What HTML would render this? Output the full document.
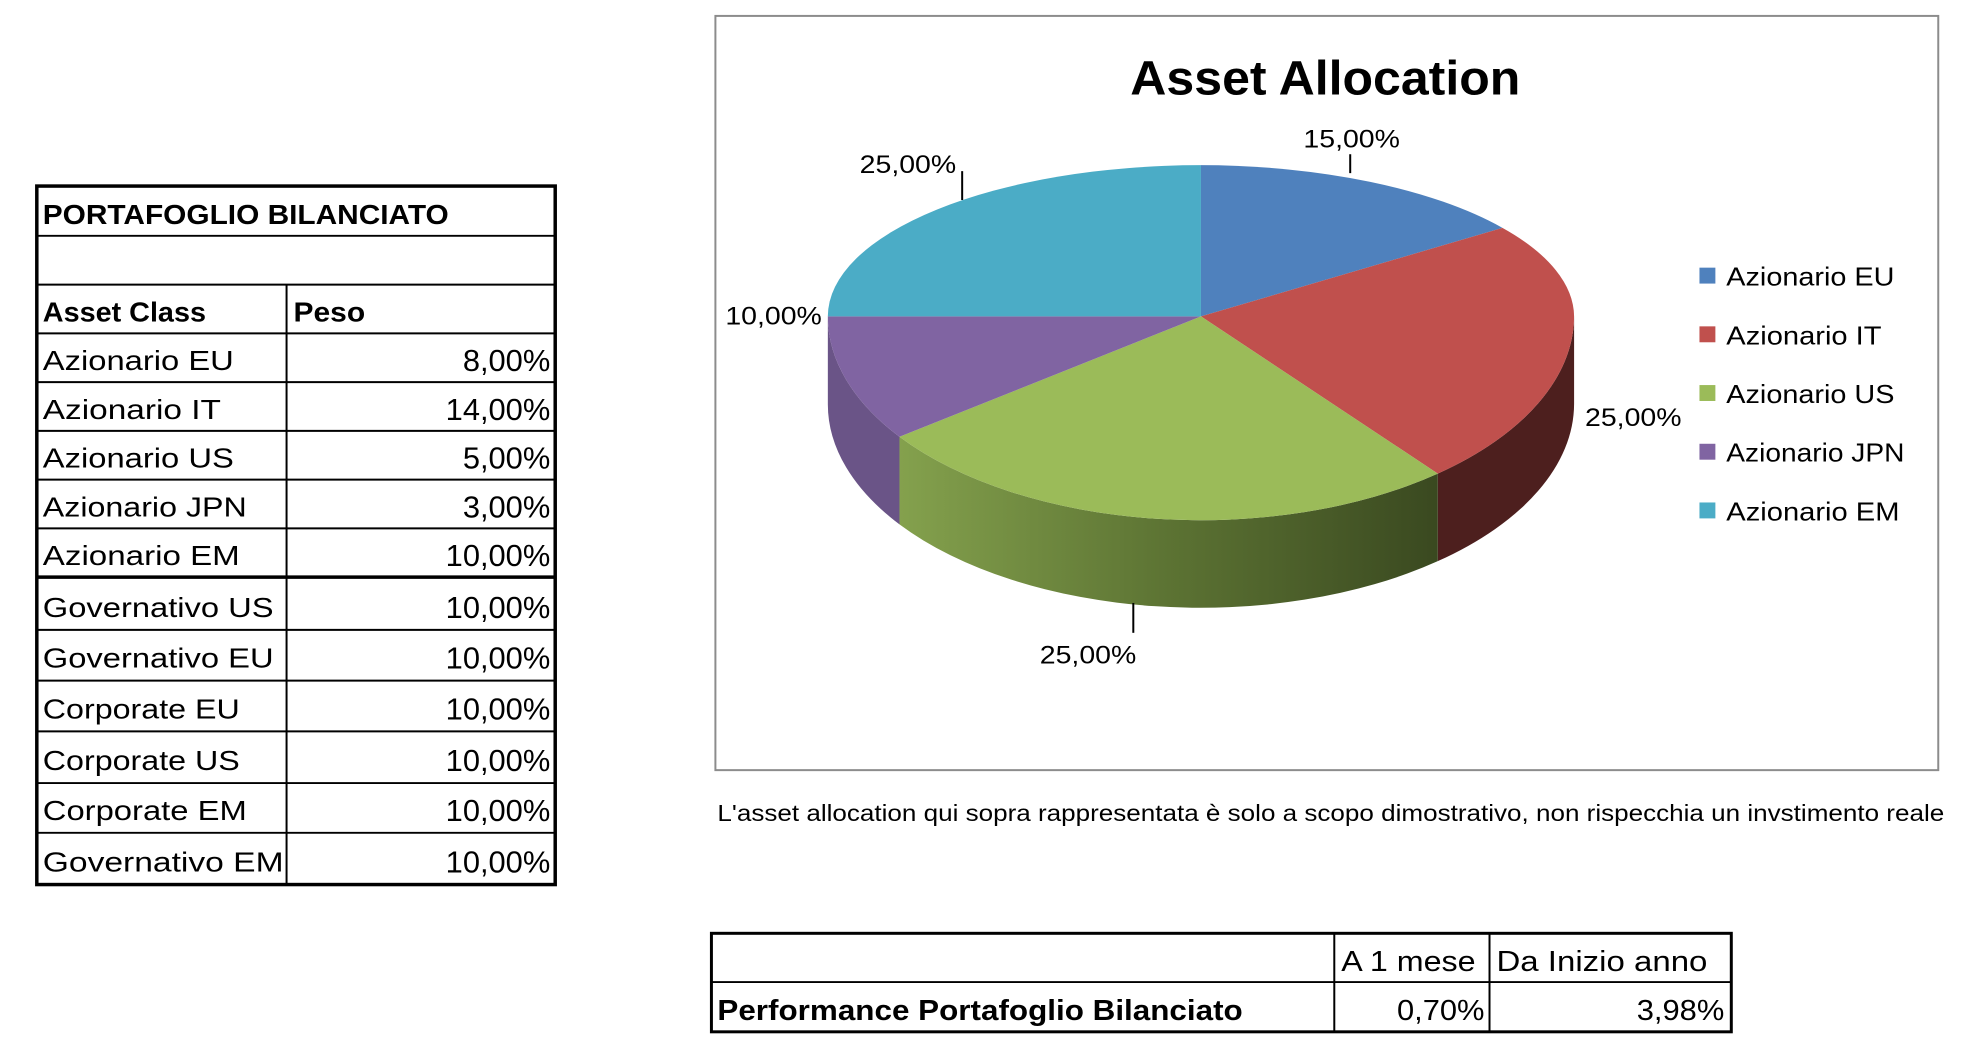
<!DOCTYPE html>
<html><head><meta charset="utf-8"><style>
html,body{margin:0;padding:0;background:#fff;}
svg{display:block;}
text{font-family:"Liberation Sans",sans-serif;fill:#000;}
</style></head><body>
<svg width="1964" height="1041" viewBox="0 0 1964 1041" xmlns="http://www.w3.org/2000/svg">
<defs>
<linearGradient id="gs" x1="904" y1="0" x2="1445" y2="0" gradientUnits="userSpaceOnUse">
<stop offset="0" stop-color="#84a14d"/><stop offset="0.5" stop-color="#5c7333"/><stop offset="1" stop-color="#3a4920"/>
</linearGradient>
</defs>
<g transform="scale(0.995)">
<g stroke="#000" fill="none">
<rect x="37" y="187" width="521" height="702" stroke-width="3.5"/>
<g stroke-width="2">
<line x1="37" y1="237" x2="558" y2="237"/>
<line x1="37" y1="286" x2="558" y2="286"/>
<line x1="37" y1="335" x2="558" y2="335"/>
<line x1="37" y1="384" x2="558" y2="384"/>
<line x1="37" y1="433" x2="558" y2="433"/>
<line x1="37" y1="482" x2="558" y2="482"/>
<line x1="37" y1="531" x2="558" y2="531"/>
<line x1="37" y1="633" x2="558" y2="633"/>
<line x1="37" y1="684" x2="558" y2="684"/>
<line x1="37" y1="735" x2="558" y2="735"/>
<line x1="37" y1="787" x2="558" y2="787"/>
<line x1="37" y1="837" x2="558" y2="837"/>
<line x1="288" y1="286" x2="288" y2="889"/>
</g>
<line x1="37" y1="580" x2="558" y2="580" stroke-width="3.5"/>
</g>
<g font-size="28">
<text x="43" y="225" font-weight="bold" textLength="408" lengthAdjust="spacingAndGlyphs">PORTAFOGLIO BILANCIATO</text>
<text x="43" y="323" font-weight="bold" textLength="164" lengthAdjust="spacingAndGlyphs">Asset Class</text>
<text x="295" y="323" font-weight="bold" textLength="72" lengthAdjust="spacingAndGlyphs">Peso</text>
<text x="43" y="372" textLength="192" lengthAdjust="spacingAndGlyphs">Azionario EU</text>
<text x="43" y="421" textLength="179" lengthAdjust="spacingAndGlyphs">Azionario IT</text>
<text x="43" y="470" textLength="192" lengthAdjust="spacingAndGlyphs">Azionario US</text>
<text x="43" y="519" textLength="205" lengthAdjust="spacingAndGlyphs">Azionario JPN</text>
<text x="43" y="568" textLength="198" lengthAdjust="spacingAndGlyphs">Azionario EM</text>
<text x="43" y="620" textLength="232" lengthAdjust="spacingAndGlyphs">Governativo US</text>
<text x="43" y="671" textLength="232" lengthAdjust="spacingAndGlyphs">Governativo EU</text>
<text x="43" y="722" textLength="198" lengthAdjust="spacingAndGlyphs">Corporate EU</text>
<text x="43" y="774" textLength="198" lengthAdjust="spacingAndGlyphs">Corporate US</text>
<text x="43" y="824" textLength="205" lengthAdjust="spacingAndGlyphs">Corporate EM</text>
<text x="43" y="876" textLength="242" lengthAdjust="spacingAndGlyphs">Governativo EM</text>
</g>
<g font-size="31" text-anchor="end">
<text x="553" y="373">8,00%</text>
<text x="553" y="422">14,00%</text>
<text x="553" y="471">5,00%</text>
<text x="553" y="520">3,00%</text>
<text x="553" y="569">10,00%</text>
<text x="553" y="621">10,00%</text>
<text x="553" y="672">10,00%</text>
<text x="553" y="723">10,00%</text>
<text x="553" y="775">10,00%</text>
<text x="553" y="825">10,00%</text>
<text x="553" y="877">10,00%</text>
</g>
<rect x="719" y="16" width="1229" height="758" fill="#fff" stroke="#8c8c8c" stroke-width="2"/>
<text x="1332" y="95" font-size="48" font-weight="bold" text-anchor="middle" textLength="392" lengthAdjust="spacingAndGlyphs">Asset Allocation</text>
<path d="M1582,318 A375,205 0 0 1 1445,476 L1445,564 A375,205 0 0 0 1582,406 Z" fill="#4d1f1e"/>
<path d="M1445,476 A375,205 0 0 1 904,439 L904,527 A375,205 0 0 0 1445,564 Z" fill="url(#gs)"/>
<path d="M904,439 A375,205 0 0 1 832,318 L832,406 A375,205 0 0 0 904,527 Z" fill="#6a5487"/>
<path d="M1207,318 L1207,166 A375,152 0 0 1 1510,229 Z" fill="#4f81bd"/>
<path d="M1207,318 L1510,229 A375,152 0 0 1 1582,318 A375,205 0 0 1 1445,476 Z" fill="#c0504d"/>
<path d="M1207,318 L1445,476 A375,205 0 0 1 904,439 Z" fill="#9bbb59"/>
<path d="M1207,318 L904,439 A375,205 0 0 1 832,318 Z" fill="#8064a2"/>
<path d="M1207,318 L832,318 A375,152 0 0 1 1207,166 Z" fill="#4bacc6"/>
<g stroke="#000" stroke-width="2">
<line x1="1357" y1="155" x2="1357" y2="174"/>
<line x1="967" y1="172" x2="967" y2="201"/>
<line x1="1139" y1="606" x2="1139" y2="636"/>
</g>
<g font-size="25">
<text x="1310" y="148" textLength="97" lengthAdjust="spacingAndGlyphs">15,00%</text>
<text x="864" y="174" textLength="97" lengthAdjust="spacingAndGlyphs">25,00%</text>
<text x="729" y="326" textLength="97" lengthAdjust="spacingAndGlyphs">10,00%</text>
<text x="1593" y="428" textLength="97" lengthAdjust="spacingAndGlyphs">25,00%</text>
<text x="1045" y="667" textLength="97" lengthAdjust="spacingAndGlyphs">25,00%</text>
</g>
<rect x="1708" y="269" width="16" height="16" fill="#4f81bd"/>
<rect x="1708" y="328" width="16" height="16" fill="#c0504d"/>
<rect x="1708" y="387" width="16" height="16" fill="#9bbb59"/>
<rect x="1708" y="446" width="16" height="16" fill="#8064a2"/>
<rect x="1708" y="505" width="16" height="16" fill="#4bacc6"/>
<g font-size="26">
<text x="1735" y="287" textLength="169" lengthAdjust="spacingAndGlyphs">Azionario EU</text>
<text x="1735" y="346" textLength="156" lengthAdjust="spacingAndGlyphs">Azionario IT</text>
<text x="1735" y="405" textLength="169" lengthAdjust="spacingAndGlyphs">Azionario US</text>
<text x="1735" y="464" textLength="179" lengthAdjust="spacingAndGlyphs">Azionario JPN</text>
<text x="1735" y="523" textLength="174" lengthAdjust="spacingAndGlyphs">Azionario EM</text>
</g>
<text x="721" y="825" font-size="23" textLength="1233" lengthAdjust="spacingAndGlyphs">L'asset allocation qui sopra rappresentata è solo a scopo dimostrativo, non rispecchia un invstimento reale</text>
<g stroke="#000" fill="none">
<rect x="715" y="938" width="1025" height="99" stroke-width="3"/>
<line x1="715" y1="987" x2="1740" y2="987" stroke-width="2"/>
<line x1="1341" y1="938" x2="1341" y2="1037" stroke-width="2"/>
<line x1="1497" y1="938" x2="1497" y2="1037" stroke-width="2"/>
</g>
<g font-size="29">
<text x="1348" y="976" textLength="135" lengthAdjust="spacingAndGlyphs">A 1 mese</text>
<text x="1504" y="976" textLength="212" lengthAdjust="spacingAndGlyphs">Da Inizio anno</text>
<text x="721" y="1025" font-weight="bold" textLength="528" lengthAdjust="spacingAndGlyphs">Performance Portafoglio Bilanciato</text>
<text x="1492" y="1025" text-anchor="end" textLength="88" lengthAdjust="spacingAndGlyphs">0,70%</text>
<text x="1733" y="1025" text-anchor="end" textLength="88" lengthAdjust="spacingAndGlyphs">3,98%</text>
</g>
</g>
</svg>
</body></html>
